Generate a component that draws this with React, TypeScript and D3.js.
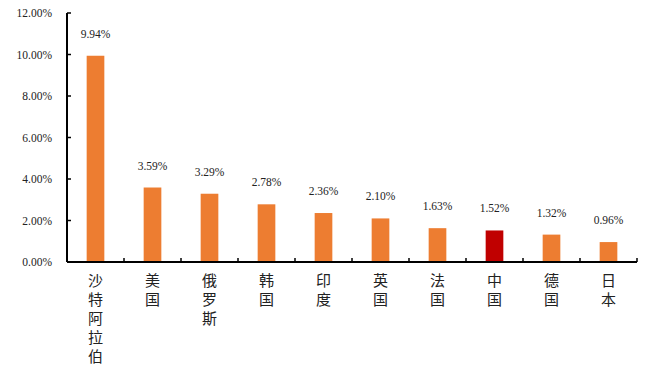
import React, { useEffect, useRef } from "react";
import * as d3 from "d3";

const countries = ["沙特阿拉伯", "美国", "俄罗斯", "韩国", "印度", "英国", "法国", "中国", "德国", "日本"];
const shares = [9.94, 3.59, 3.29, 2.78, 2.36, 2.1, 1.63, 1.52, 1.32, 0.96];
const yTicks = [0, 2, 4, 6, 8, 10, 12];
const highlight = "中国";

const W = 655;
const H = 366;
const margin = { top: 13, right: 18, bottom: 104, left: 67 };

export default function App() {
  const svgRef = useRef<SVGSVGElement>(null);

  useEffect(() => {
    if (!svgRef.current) return;
    const svg = d3.select(svgRef.current);
    svg.selectAll("*").remove();

    const iw = W - margin.left - margin.right;
    const ih = H - margin.top - margin.bottom;

    const x = d3.scaleBand().domain(countries).range([0, iw]).paddingInner(0.69).paddingOuter(0.345);
    const xb = d3.scaleBand().domain(countries).range([0, iw]);
    const y = d3.scaleLinear().domain([0, 12]).range([ih, 0]);

    const g = svg.append("g").attr("transform", `translate(${margin.left},${margin.top})`);

    g.selectAll("rect.bar")
      .data(countries)
      .join("rect")
      .attr("class", "bar")
      .attr("x", (d) => x(d)!)
      .attr("width", x.bandwidth())
      .attr("y", (_, i) => y(shares[i]))
      .attr("height", (_, i) => ih - y(shares[i]))
      .attr("fill", (d) => (d === highlight ? "#C00000" : "#ED7D31"));

    g.selectAll("text.val")
      .data(countries)
      .join("text")
      .attr("class", "val")
      .attr("x", (d) => x(d)! + x.bandwidth() / 2)
      .attr("y", (_, i) => y(shares[i]) - 18)
      .attr("text-anchor", "middle")
      .style("font-family", "'Liberation Serif', serif")
      .style("font-size", "11.5px")
      .attr("fill", "#222")
      .text((_, i) => shares[i].toFixed(2) + "%");

    // y axis
    const ya = g.append("g");
    ya.append("line").attr("x1", 0).attr("x2", 0).attr("y1", 0).attr("y2", ih).attr("stroke", "#000").attr("stroke-width", 2);
    ya.selectAll("line.t")
      .data(yTicks)
      .join("line")
      .attr("class", "t")
      .attr("x1", 0)
      .attr("x2", 4)
      .attr("y1", (d) => y(d))
      .attr("y2", (d) => y(d))
      .attr("stroke", "#000")
      .attr("stroke-width", 1.5);
    ya.selectAll("text")
      .data(yTicks)
      .join("text")
      .attr("x", -15)
      .attr("y", (d) => y(d))
      .attr("dy", "0.35em")
      .attr("text-anchor", "end")
      .style("font-family", "'Liberation Serif', serif")
      .style("font-size", "11.5px")
      .attr("fill", "#222")
      .text((d) => d.toFixed(2) + "%");

    // x axis
    const xa = g.append("g").attr("transform", `translate(0,${ih})`);
    xa.append("line").attr("x1", 0).attr("x2", iw).attr("stroke", "#000").attr("stroke-width", 2);
    xa.selectAll("line.t")
      .data(countries)
      .join("line")
      .attr("class", "t")
      .attr("x1", (d) => xb(d)! + xb.bandwidth())
      .attr("x2", (d) => xb(d)! + xb.bandwidth())
      .attr("y1", 0)
      .attr("y2", -4)
      .attr("stroke", "#000")
      .attr("stroke-width", 1.5);

    const labels = xa
      .selectAll("text")
      .data(countries)
      .join("text")
      .attr("text-anchor", "middle")
      .style("font-family", "'Noto Sans CJK SC', sans-serif")
      .style("font-size", "15px")
      .attr("fill", "#222");
    labels
      .selectAll("tspan")
      .data((d) => Array.from(d).map((c) => ({ c, d })))
      .join("tspan")
      .attr("x", (t) => xb(t.d)! + xb.bandwidth() / 2)
      .attr("y", (_, i) => 24 + i * 19)
      .text((t) => t.c);
  }, []);

  return (
    <svg
      ref={svgRef}
      width={W}
      height={H}
      style={{ position: "absolute", left: 0, top: 0, background: "#fff" }}
    />
  );
}
